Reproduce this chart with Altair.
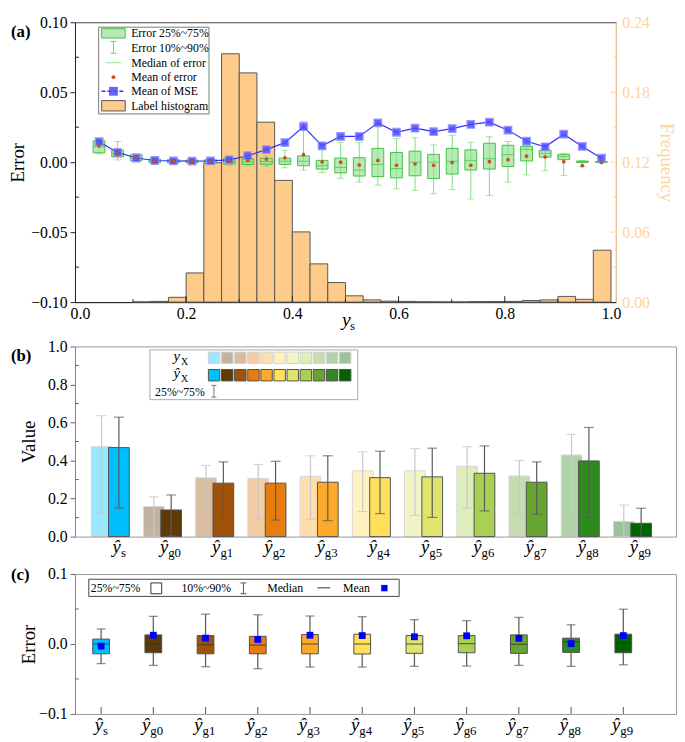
import altair as alt
import pandas as pd

SERIF = "Liberation Serif"

# ===================== data: panel (a) =====================
a_pos = [0.036, 0.071, 0.106, 0.141, 0.176, 0.211, 0.246, 0.281, 0.316, 0.351,
         0.386, 0.421, 0.456, 0.491, 0.526, 0.561, 0.596, 0.631, 0.666, 0.701,
         0.736, 0.771, 0.806, 0.841, 0.876, 0.911, 0.946, 0.982]
a_q10 = [0.0060, 0.0016, 0.0007, -0.0009, -0.0010, -0.0010, -0.0012, -0.0022, -0.0028, -0.0030,
         -0.0040, -0.0056, -0.0074, -0.0115, -0.0142, -0.0164, -0.0191, -0.0202, -0.0225, -0.0196,
         -0.0263, -0.0238, -0.0142, -0.0090, -0.0061, -0.0094, -0.0030, -0.0005]
a_q25 = [0.0067, 0.0038, 0.0011, -0.0002, -0.0005, -0.0005, -0.0008, -0.0013, -0.0016, -0.0015,
         -0.0016, -0.0025, -0.0049, -0.0076, -0.0099, -0.0103, -0.0112, -0.0097, -0.0117, -0.0085,
         -0.0056, -0.0049, -0.0031, 0.0009, 0.0036, 0.0018, -0.0002, -0.0001]
a_med = [0.0110, 0.0062, 0.0030, 0.0008, 0.0005, 0.0004, 0.0003, 0.0005, 0.0002, 0.0005,
         0.0007, 0.0007, -0.0025, -0.0038, -0.0056, -0.0016, -0.0045, 0.0000, 0.0000, 0.0007,
         0.0013, 0.0025, 0.0054, 0.0092, 0.0063, 0.0040, 0.0003, 0.0001]
a_q75 = [0.0153, 0.0086, 0.0053, 0.0022, 0.0018, 0.0016, 0.0018, 0.0025, 0.0024, 0.0028,
         0.0029, 0.0045, 0.0013, 0.0029, 0.0032, 0.0099, 0.0069, 0.0079, 0.0056, 0.0099,
         0.0088, 0.0135, 0.0121, 0.0113, 0.0086, 0.0056, 0.0008, 0.0003]
a_q90 = [0.0160, 0.0148, 0.0060, 0.0040, 0.0030, 0.0028, 0.0030, 0.0035, 0.0040, 0.0047,
         0.0086, 0.0290, 0.0090, 0.0142, 0.0142, 0.0258, 0.0169, 0.0175, 0.0124, 0.0193,
         0.0142, 0.0182, 0.0148, 0.0119, 0.0090, 0.0063, 0.0013, 0.0005]
a_mean = [0.0117, 0.0060, 0.0030, 0.0010, 0.0008, 0.0007, 0.0006, 0.0010, 0.0014, 0.0022,
          0.0032, 0.0054, 0.0002, 0.0000, -0.0020, 0.0013, -0.0022, -0.0013, -0.0022, -0.0002,
          -0.0022, 0.0004, 0.0018, 0.0043, 0.0038, 0.0004, -0.0025, -0.0002]
a_mse = [0.0146, 0.0070, 0.0030, 0.0012, 0.0009, 0.0008, 0.0009, 0.0017, 0.0046, 0.0090,
         0.0140, 0.0254, 0.0117, 0.0184, 0.0184, 0.0281, 0.0214, 0.0243, 0.0218, 0.0240,
         0.0270, 0.0286, 0.0229, 0.0150, 0.0110, 0.0200, 0.0113, 0.0029]

hist_left = [0.1000, 0.1333, 0.1667, 0.2000, 0.2333, 0.2667, 0.3000, 0.3333, 0.3667,
             0.4000, 0.4333, 0.4667, 0.5000, 0.5333, 0.5667, 0.6000, 0.6333, 0.6667,
             0.7000, 0.7333, 0.7667, 0.8000, 0.8333, 0.8667, 0.9000, 0.9333, 0.9667]
hist_freq = [0.0002, 0.0006, 0.0041, 0.0250, 0.1196, 0.2130, 0.1966, 0.1543, 0.1044,
             0.0602, 0.0328, 0.0168, 0.0054, 0.0019, 0.0008, 0.0006, 0.0003, 0.0002,
             0.0002, 0.0004, 0.0005, 0.0006, 0.0014, 0.0019, 0.0049, 0.0024, 0.0445]
HIST_BIN = 1 / 30

a_xticks_major = [0.2, 0.4, 0.6, 0.8]
a_xticks_minor = [0.1, 0.3, 0.5, 0.7, 0.9]
a_yticks_minor = [-0.075, -0.025, 0.025, 0.075]
a_fticks_major = [0.06, 0.12, 0.18]
a_fticks_minor = [0.03, 0.09, 0.15, 0.21]

# ===================== data: panel (b) =====================
cats = ["s", "g0", "g1", "g2", "g3", "g4", "g5", "g6", "g7", "g8", "g9"]
cat_colors = ["#00BFFF", "#5E3A06", "#A0520A", "#E67D0E", "#FDAA2A", "#FFDF5C",
              "#DFE46C", "#A8D052", "#67A530", "#2F8A1E", "#006400"]
b_true_mean = [0.473, 0.158, 0.309, 0.305, 0.317, 0.346, 0.346, 0.369, 0.319, 0.429, 0.080]
b_true_q25 = [0.125, 0.003, 0.125, 0.094, 0.091, 0.132, 0.111, 0.149, 0.123, 0.125, 0.000]
b_true_q75 = [0.636, 0.209, 0.374, 0.379, 0.425, 0.446, 0.463, 0.473, 0.400, 0.537, 0.166]
b_pred_mean = [0.468, 0.140, 0.281, 0.281, 0.286, 0.310, 0.314, 0.333, 0.286, 0.398, 0.070]
b_pred_q25 = [0.149, 0.005, 0.111, 0.087, 0.084, 0.121, 0.101, 0.135, 0.118, 0.101, 0.000]
b_pred_q75 = [0.628, 0.219, 0.393, 0.396, 0.425, 0.449, 0.465, 0.477, 0.393, 0.574, 0.149]
b_yticks_minor = [0.1, 0.3, 0.5, 0.7, 0.9]

# ===================== data: panel (c) =====================
c_q10 = [-0.0280, -0.0306, -0.0325, -0.0353, -0.0330, -0.0330, -0.0320, -0.0315, -0.0306, -0.0320, -0.0297]
c_q25 = [-0.0140, -0.0125, -0.0140, -0.0140, -0.0140, -0.0143, -0.0134, -0.0125, -0.0134, -0.0120, -0.0125]
c_med = [0.0000, 0.0000, -0.0010, -0.0015, 0.0000, 0.0000, 0.0000, 0.0005, -0.0005, 0.0033, 0.0010]
c_q75 = [0.0070, 0.0130, 0.0120, 0.0110, 0.0135, 0.0140, 0.0120, 0.0120, 0.0130, 0.0083, 0.0140]
c_q90 = [0.0215, 0.0395, 0.0427, 0.0418, 0.0400, 0.0390, 0.0348, 0.0334, 0.0380, 0.0274, 0.0497]
c_mean = [-0.0030, 0.0125, 0.0084, 0.0065, 0.0125, 0.0120, 0.0103, 0.0117, 0.0080, 0.0005, 0.0120]
c_yticks_minor = [-0.05, 0.05]

# ===================== helpers =====================
one = pd.DataFrame({"k": [0]})


def px_rect(x1, x2, y1, y2, **kw):
    return alt.Chart(one).mark_rect(**kw).encode(
        x=alt.value(x1), x2=alt.value(x2), y=alt.value(y1), y2=alt.value(y2))


def px_rule(x1, x2, y1, y2, **kw):
    return alt.Chart(one).mark_rule(**kw).encode(
        x=alt.value(x1), x2=alt.value(x2), y=alt.value(y1), y2=alt.value(y2))


def px_text(x, y, text, size=12, align="left", baseline="middle", **kw):
    return alt.Chart(one).mark_text(text=text, font=SERIF, fontSize=size, align=align,
                                    baseline=baseline, color="black", **kw).encode(
        x=alt.value(x), y=alt.value(y))


def px_ibar(x, y1, y2, half=3, color="#666"):
    return [px_rule(x, x, y1, y2, color=color, strokeWidth=1),
            px_rule(x - half, x + half, y1, y1, color=color, strokeWidth=1),
            px_rule(x - half, x + half, y2, y2, color=color, strokeWidth=1)]


# ===================== panel (a) =====================
W_A, H_A = 549, 284
xa = alt.Scale(domain=[0, 1], nice=False, zero=False)
ya = alt.Scale(domain=[-0.1, 0.1], nice=False, zero=False)
fa = alt.Scale(domain=[0, 0.24], nice=False, zero=False)
ORANGE = "#FFD39B"

AX_XA = alt.Axis(values=[0, 0.2, 0.4, 0.6, 0.8, 1.0], format=".1f", title=None, ticks=False,
                 labelPadding=4, domainColor="#222")
AX_FA = alt.Axis(orient="right", values=[0, 0.06, 0.12, 0.18, 0.24], format=".2f",
                 title="Frequency", ticks=False, labelColor=ORANGE, titleColor=ORANGE,
                 domainColor=ORANGE, labelPadding=6, titlePadding=7)
AX_YA = alt.Axis(values=[-0.1, -0.05, 0, 0.05, 0.1], format=".2f", title="Error", tickSize=5,
                 labelPadding=3, domainColor="#222", tickColor="#222", titleX=-48)

hist_df = pd.DataFrame({"lo": hist_left, "freq": hist_freq})
hist_df["hi"] = hist_df["lo"] + HIST_BIN
hist_df["base"] = 0.0

hist = alt.Chart(hist_df).mark_rect(fill="#FECB8B", stroke="#555555", strokeWidth=1).encode(
    x=alt.X("lo:Q", scale=xa, axis=AX_XA), x2="hi:Q",
    y=alt.Y("freq:Q", scale=fa, axis=AX_FA), y2="base:Q")
fmaj = alt.Chart(pd.DataFrame({"v": a_fticks_major})).mark_rule(color=ORANGE).encode(
    x=alt.value(W_A - 6), x2=alt.value(W_A), y=alt.Y("v:Q", scale=fa, axis=AX_FA))
fmin = alt.Chart(pd.DataFrame({"v": a_fticks_minor})).mark_rule(color=ORANGE).encode(
    x=alt.value(W_A - 3), x2=alt.value(W_A), y=alt.Y("v:Q", scale=fa, axis=AX_FA))
hist_group = alt.layer(hist, fmaj, fmin)

df_a = pd.DataFrame({"x": a_pos, "q10": a_q10, "q25": a_q25, "med": a_med, "q75": a_q75,
                     "q90": a_q90, "mean": a_mean, "mse": a_mse})
XA = alt.X("x:Q", scale=xa, axis=AX_XA)
GREEN_W = "#7EDC7E"
GREEN_S = "#45C045"


def YA(f):
    return alt.Y(f, scale=ya, axis=AX_YA)


whisk = alt.Chart(df_a).mark_rule(color=GREEN_W, strokeWidth=1).encode(
    x=XA, y=YA("q10:Q"), y2="q90:Q")
caps = alt.Chart(df_a).transform_fold(["q10", "q90"], as_=["k", "v"]).mark_tick(
    orient="horizontal", size=7, thickness=1, color=GREEN_W).encode(x=XA, y=YA("v:Q"))
boxes = alt.Chart(df_a).mark_bar(size=12, fill="#96E396", fillOpacity=0.7, stroke=GREEN_S,
                                 strokeWidth=1).encode(x=XA, y=YA("q25:Q"), y2="q75:Q")
meds = alt.Chart(df_a).mark_tick(orient="horizontal", size=12, thickness=1, color=GREEN_S).encode(
    x=XA, y=YA("med:Q"))
mse_line = alt.Chart(df_a).mark_line(color="#3030FF", strokeWidth=1.2).encode(
    x=XA, y=YA("mse:Q"))
mse_pts = alt.Chart(df_a).mark_square(size=60, color="#4A4AFF", opacity=0.85,
                                      stroke="#8A8AFF", strokeWidth=1.2).encode(
    x=XA, y=YA("mse:Q"))
mean_pts = alt.Chart(df_a).mark_circle(size=14, color="#C8501A", opacity=1).encode(
    x=XA, y=YA("mean:Q"))

xt_maj = alt.Chart(pd.DataFrame({"x": a_xticks_major})).mark_rule(color="#222").encode(
    x=XA, y=alt.value(H_A - 6), y2=alt.value(H_A))
xt_min = alt.Chart(pd.DataFrame({"x": a_xticks_minor})).mark_rule(color="#222").encode(
    x=XA, y=alt.value(H_A - 3), y2=alt.value(H_A))
yt_min = alt.Chart(pd.DataFrame({"v": a_yticks_minor})).mark_rule(color="#222").encode(
    y=YA("v:Q"), x=alt.value(0), x2=alt.value(4))

leg_a = [
    px_rect(24, 136, 5, 93, fill="white", stroke="#777777", strokeWidth=1),
    px_rect(27, 51, 6.5, 16, fill="#96E396", fillOpacity=0.7, stroke=GREEN_S, strokeWidth=1),
    *px_ibar(39, 19.5, 31.5, half=3, color="#6CD66C"),
    px_rule(31, 47, 41, 41, color="#A6E8A6", strokeWidth=1.2),
    alt.Chart(one).mark_circle(size=14, color="#C8501A", opacity=1).encode(
        x=alt.value(39), y=alt.value(55.7)),
    px_rule(27, 51, 70, 70, color="#3030FF", strokeDash=[4, 2], strokeWidth=1.5),
    alt.Chart(one).mark_square(size=80, color="#4A4AFF", opacity=0.85).encode(
        x=alt.value(39), y=alt.value(70)),
    px_rect(27, 51, 79.5, 90, fill="#FECB8B", stroke="#555555", strokeWidth=1),
    px_text(57, 11.3, "Error 25%~75%"),
    px_text(57, 26.3, "Error 10%~90%"),
    px_text(57, 41, "Median of error"),
    px_text(57, 55.7, "Mean of error"),
    px_text(57, 70, "Mean of MSE"),
    px_text(57, 84.7, "Label histogram"),
    px_text(-65, 10, "(a)", size=17, fontWeight="bold"),
    px_text(271, H_A + 24, "y", size=20, baseline="alphabetic", fontStyle="italic"),
    px_text(279, H_A + 28, "s", size=13, baseline="alphabetic"),
]

err_group = alt.layer(whisk, caps, boxes, meds, mse_line, mse_pts, mean_pts,
                      xt_maj, xt_min, yt_min, *leg_a)

panel_a = alt.layer(hist_group, err_group).resolve_scale(y="independent").properties(
    width=W_A, height=H_A, view=alt.ViewBackground(stroke="#444444"))

# ===================== panel (b) =====================
W_B, H_B = 610, 193
xb = alt.Scale(domain=cats, paddingInner=0, paddingOuter=0.2547, align=0.344)
xob = alt.Scale(domain=["t", "p"], paddingInner=0, paddingOuter=0.506)
yb = alt.Scale(domain=[0, 1], nice=False)
colscale = alt.Scale(domain=cats, range=cat_colors)
AX_YB = alt.Axis(values=[0, 0.2, 0.4, 0.6, 0.8, 1.0], format=".1f", title="Value", tickSize=5,
                 labelPadding=3, domainColor="#888", tickColor="#666", titleX=-37)


def YB(f):
    return alt.Y(f, scale=yb, axis=AX_YB)


df_bt = pd.DataFrame({"cat": cats, "kind": "t", "mean": b_true_mean, "lo": b_true_q25,
                      "hi": b_true_q75})
df_bp = pd.DataFrame({"cat": cats, "kind": "p", "mean": b_pred_mean, "lo": b_pred_q25,
                      "hi": b_pred_q75})
XB = alt.X("cat:N", scale=xb, axis=None)
XOB = alt.XOffset("kind:N", scale=xob)
COLB = alt.Color("cat:N", scale=colscale, legend=None)

light = alt.Chart(df_bt).mark_bar(width=21, opacity=0.38, stroke="#999999", strokeWidth=1).encode(
    x=XB, xOffset=XOB, color=COLB, y=YB("mean:Q"))
dark = alt.Chart(df_bp).mark_bar(width=21, stroke="#505050", strokeWidth=1).encode(
    x=XB, xOffset=XOB, color=COLB, y=YB("mean:Q"))


def err_layers(df, color):
    r = alt.Chart(df).mark_rule(color=color, strokeWidth=1.2).encode(
        x=XB, xOffset=XOB, y=YB("lo:Q"), y2="hi:Q")
    t = alt.Chart(df).transform_fold(["lo", "hi"], as_=["k", "v"]).mark_tick(
        orient="horizontal", size=10, thickness=1.2, color=color).encode(
        x=XB, xOffset=XOB, y=YB("v:Q"))
    return [r, t]


yb_min = alt.Chart(pd.DataFrame({"v": b_yticks_minor})).mark_rule(color="#666").encode(
    y=YB("v:Q"), x=alt.value(0), x2=alt.value(4))

lab_b_s = pd.DataFrame({"cat": cats[:1], "kind": "p", "sub": cats[:1]})
lab_b_g = pd.DataFrame({"cat": cats[1:], "kind": "p", "sub": cats[1:]})


def labels(df, xenc, h, dx, offset=None):
    enc = {"x": xenc}
    if offset is not None:
        enc["xOffset"] = offset
    hat = alt.Chart(df).mark_text(text="ŷ", font=SERIF, fontStyle="italic", fontSize=19,
                                  align="right", baseline="alphabetic", dx=dx).encode(
        y=alt.value(h + 17), **enc)
    sub = alt.Chart(df).mark_text(font=SERIF, fontSize=13, align="left",
                                  baseline="alphabetic", dx=dx).encode(
        y=alt.value(h + 21), text="sub:N", **enc)
    return [hat, sub]


sw_df = pd.DataFrame({"cat": cats, "sx": [141.2 + 13.3 * i for i in range(len(cats))]})
leg_b = [
    px_rect(76, 287, 3.5, 54, fill="white", stroke="#AAAAAA", strokeWidth=1),
    alt.Chart(sw_df).mark_square(size=135, opacity=0.38, stroke="#888888", strokeWidth=1).encode(
        x=alt.X("sx:Q", scale=None), y=alt.value(11.5), color=COLB),
    alt.Chart(sw_df).mark_square(size=135, opacity=1, stroke="#505050", strokeWidth=1).encode(
        x=alt.X("sx:Q", scale=None), y=alt.value(29.2), color=COLB),
    px_text(100, 15, "y", size=15, baseline="alphabetic", fontStyle="italic"),
    px_text(107.5, 18.5, "X", size=10, baseline="alphabetic"),
    px_text(100, 32.5, "ŷ", size=15, baseline="alphabetic", fontStyle="italic"),
    px_text(107.5, 36, "X", size=10, baseline="alphabetic"),
    px_text(81.3, 46, "25%~75%"),
    *px_ibar(141, 39.5, 51.5, half=2.5, color="#777"),
    px_text(-65, 10, "(b)", size=17, fontWeight="bold"),
]

panel_b = alt.layer(light, dark, *err_layers(df_bt, "#C8C8C8"), *err_layers(df_bp, "#5A5A5A"),
                    yb_min, *labels(lab_b_s, XB, H_B, 2, XOB), *labels(lab_b_g, XB, H_B, -3, XOB),
                    *leg_b).properties(
    width=W_B, height=H_B, view=alt.ViewBackground(stroke="#999999"))

# ===================== panel (c) =====================
W_C, H_C = 610, 142
xc = alt.Scale(domain=cats, paddingInner=0, paddingOuter=0.2547, align=0)
yc = alt.Scale(domain=[-0.1, 0.1], nice=False, zero=False)
XC = alt.X("cat:N", scale=xc, axis=None)
AX_YC = alt.Axis(values=[-0.1, 0, 0.1], format=".1f", title="Error", tickSize=5,
                 labelPadding=3, domainColor="#888", tickColor="#666", titleX=-37)


def YC(f):
    return alt.Y(f, scale=yc, axis=AX_YC)


df_c = pd.DataFrame({"cat": cats, "q10": c_q10, "q25": c_q25, "med": c_med, "q75": c_q75,
                     "q90": c_q90, "mean": c_mean})

c_wh = alt.Chart(df_c).mark_rule(color="#606060", strokeWidth=1.3).encode(
    x=XC, y=YC("q10:Q"), y2="q90:Q")
c_caps = alt.Chart(df_c).transform_fold(["q10", "q90"], as_=["k", "v"]).mark_tick(
    orient="horizontal", size=9, thickness=1.3, color="#606060").encode(x=XC, y=YC("v:Q"))
c_box = alt.Chart(df_c).mark_bar(width=17, stroke="#505050", strokeWidth=1).encode(
    x=XC, y=YC("q25:Q"), y2="q75:Q", color=alt.Color("cat:N", scale=colscale, legend=None))
c_med_t = alt.Chart(df_c).mark_tick(orient="horizontal", size=17, thickness=1.2,
                                    color="#333333").encode(x=XC, y=YC("med:Q"))
c_mean_p = alt.Chart(df_c).mark_square(size=48, color="#0000FF", opacity=1).encode(
    x=XC, y=YC("mean:Q"))
c_ticks = alt.Chart(df_c).mark_rule(color="#555555").encode(
    x=XC, y=alt.value(H_C - 7), y2=alt.value(H_C))
yc_min = alt.Chart(pd.DataFrame({"v": c_yticks_minor})).mark_rule(color="#666").encode(
    y=YC("v:Q"), x=alt.value(0), x2=alt.value(4))

lab_c_s = pd.DataFrame({"cat": cats[:1], "sub": cats[:1]})
lab_c_g = pd.DataFrame({"cat": cats[1:], "sub": cats[1:]})

leg_c = [
    px_rect(14, 329, 5.3, 22.7, fill="white", stroke="#444444", strokeWidth=1),
    px_text(16, 14, "25%~75%"),
    px_rect(77, 88, 9, 20, fill="white", stroke="#333333", strokeWidth=1),
    px_text(108, 14, "10%~90%"),
    *px_ibar(171, 9, 20, half=3, color="#555"),
    px_text(195, 14, "Median"),
    px_rule(246, 259, 14, 14, color="#333333", strokeWidth=1),
    px_text(272, 14, "Mean"),
    alt.Chart(one).mark_square(size=42, color="#0000FF", opacity=1).encode(
        x=alt.value(314), y=alt.value(14.3)),
    px_text(-65, 1, "(c)", size=17, fontWeight="bold"),
]

panel_c = alt.layer(c_wh, c_ticks, c_caps, c_box, c_med_t, c_mean_p, yc_min,
                    *labels(lab_c_s, XC, H_C, 2), *labels(lab_c_g, XC, H_C, -3),
                    *leg_c).properties(
    width=W_C, height=H_C, view=alt.ViewBackground(stroke="#999999"))

chart = alt.vconcat(panel_a, panel_b, panel_c, spacing=4).resolve_scale(
    x="independent", y="independent", color="independent").properties(padding=0).configure_axis(
    labelFont=SERIF, titleFont=SERIF, labelFontSize=16, titleFontSize=19,
    titleFontWeight="normal", labelColor="black", titleColor="black", grid=False)

chart.save("out.html", embed_options={"renderer": "svg", "actions": False})
